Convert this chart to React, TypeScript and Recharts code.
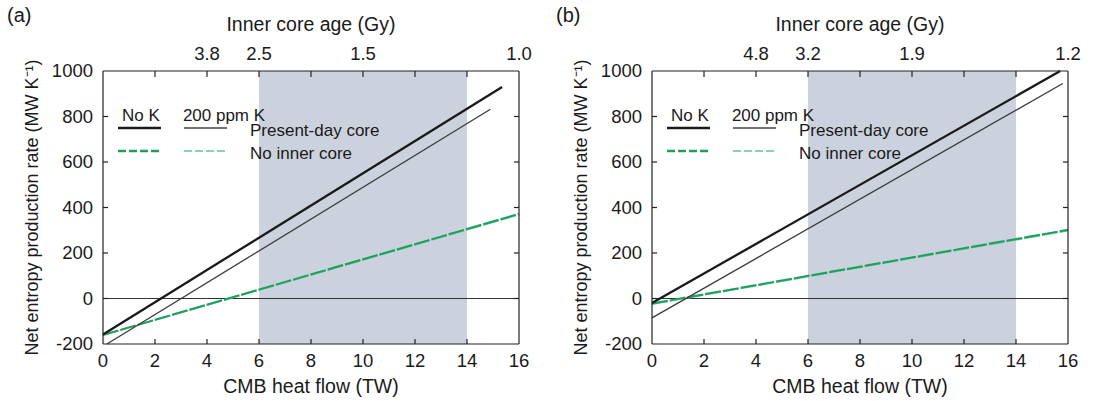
import React from "react";
import { LineChart, Line, XAxis, YAxis, ReferenceArea, ReferenceLine, Legend } from "recharts";

const FONT = '"Liberation Sans", Arial, Helvetica, sans-serif';
const INK = "#1a1a1a";
const AXIS = "#222";
const SHADE = "#ccd1de";
const GREEN = "#1f9f5a";
const LIGHT_GREEN = "#5cc6a0";

// shared axes
const heatFlowTicks = [0, 2, 4, 6, 8, 10, 12, 14, 16];
const entropyTicks = [-200, 0, 200, 400, 600, 800, 1000];
const presentDayRange = [6, 14];

// inner core age labels on top axis, one per heat flow tick
const agesA = ["", "", "3.8", "2.5", "", "1.5", "", "", "1.0"];
const agesB = ["", "", "4.8", "3.2", "", "1.9", "", "", "1.2"];

// panel (a)
const presentNoKA = [{ x: 0, y: -158 }, { x: 15.35, y: 930 }];
const presentKA = [{ x: 0.15, y: -200 }, { x: 14.9, y: 832 }];
const noCoreNoKA = [{ x: 0, y: -160 }, { x: 16, y: 372 }];
const noCoreKA = [{ x: 0, y: -162 }, { x: 16, y: 368 }];

// panel (b)
const presentNoKB = [{ x: 0, y: -20 }, { x: 15.7, y: 1000 }];
const presentKB = [{ x: 0, y: -85 }, { x: 15.8, y: 945 }];
const noCoreNoKB = [{ x: 0, y: -22 }, { x: 16, y: 302 }];
const noCoreKB = [{ x: 0, y: -25 }, { x: 16, y: 298 }];

const keyColumns = ["No K", "200 ppm K"];
const keyRows = ["Present-day core", "No inner core"];

const BottomTick = (props: any) => {
  const { x, y, payload } = props;
  const v = payload.value;
  const inner = v !== heatFlowTicks[0] && v !== heatFlowTicks[heatFlowTicks.length - 1];
  return (
    <g>
      {inner && <line x1={x} x2={x} y1={y} y2={y - 5} stroke={AXIS} strokeWidth={1.2} />}
      <text x={x} y={y + 23} textAnchor="middle" fontSize={18.5} fill={INK} fontFamily={FONT}>
        {v}
      </text>
    </g>
  );
};

const makeTopTick = (ages: string[]) => (props: any) => {
  const { x, y, payload } = props;
  const v = payload.value;
  const i = heatFlowTicks.indexOf(v);
  const inner = v !== heatFlowTicks[0] && v !== heatFlowTicks[heatFlowTicks.length - 1];
  return (
    <g>
      {inner && <line x1={x} x2={x} y1={y} y2={y + 6} stroke={AXIS} strokeWidth={1.2} />}
      <text x={x} y={y - 11} textAnchor="middle" fontSize={18.5} fill={INK} fontFamily={FONT}>
        {ages[i] ?? ""}
      </text>
    </g>
  );
};

const LeftTick = (props: any) => {
  const { x, y, payload } = props;
  const v = payload.value;
  const inner = v !== entropyTicks[0] && v !== entropyTicks[entropyTicks.length - 1];
  return (
    <g>
      {inner && <line x1={x} x2={x + 5} y1={y} y2={y} stroke={AXIS} strokeWidth={1.2} />}
      <text x={x - 10} y={y} dy="0.35em" textAnchor="end" fontSize={18.5} fill={INK} fontFamily={FONT}>
        {v}
      </text>
    </g>
  );
};

const RightTick = (props: any) => {
  const { x, y, payload } = props;
  const v = payload.value;
  const inner = v !== entropyTicks[0] && v !== entropyTicks[entropyTicks.length - 1];
  return inner ? <line x1={x} x2={x - 5} y1={y} y2={y} stroke={AXIS} strokeWidth={1.2} /> : <g />;
};

const Key = () => (
  <svg width={300} height={70} style={{ display: "block", overflow: "visible" }}>
    <g fontFamily={FONT} fontSize={17} fill={INK}>
      <text x={26} y={21} textAnchor="middle">{keyColumns[0]}</text>
      <text x={109} y={21} textAnchor="middle">{keyColumns[1]}</text>
      <text x={135} y={36}>{keyRows[0]}</text>
      <text x={135} y={59}>{keyRows[1]}</text>
    </g>
    <line x1={3} x2={46} y1={28} y2={28} stroke={INK} strokeWidth={2.6} />
    <line x1={69} x2={112} y1={28} y2={28} stroke="#444" strokeWidth={1.4} />
    <line x1={3} x2={46} y1={51} y2={51} stroke={GREEN} strokeWidth={2.4} strokeDasharray="8 3" />
    <line x1={69} x2={112} y1={51} y2={51} stroke={LIGHT_GREEN} strokeWidth={1.6} strokeDasharray="8 3" />
  </svg>
);

function Panel({
  letter,
  ages,
  presentNoK,
  presentK,
  noCoreNoK,
  noCoreK,
}: {
  letter: string;
  ages: string[];
  presentNoK: { x: number; y: number }[];
  presentK: { x: number; y: number }[];
  noCoreNoK: { x: number; y: number }[];
  noCoreK: { x: number; y: number }[];
}) {
  return (
    <div style={{ position: "relative", width: 549, height: 401 }}>
      <div
        style={{ position: "absolute", left: 7, top: 4, fontSize: 20, fontFamily: FONT, color: INK, zIndex: 2 }}
      >
        {letter}
      </div>
      <LineChart width={549} height={401} margin={{ top: 0, right: 0, bottom: 0, left: 0 }}>
        <XAxis
          dataKey="x"
          type="number"
          domain={[0, 16]}
          ticks={heatFlowTicks}
          interval={0}
          height={57}
          tickLine={false}
          tickSize={0}
          tickMargin={0}
          axisLine={{ stroke: AXIS, strokeWidth: 1.2 }}
          tick={<BottomTick />}
          label={{
            content: ({ viewBox }: any) => (
              <text
                x={viewBox.x + viewBox.width / 2}
                y={viewBox.y + 49}
                textAnchor="middle"
                fontSize={19.5}
                fill={INK}
                fontFamily={FONT}
              >
                CMB heat flow (TW)
              </text>
            ),
          }}
        />
        <XAxis
          xAxisId="top"
          orientation="top"
          dataKey="x"
          type="number"
          domain={[0, 16]}
          allowDataOverflow
          ticks={heatFlowTicks}
          interval={0}
          height={71}
          tickLine={false}
          tickSize={0}
          tickMargin={0}
          axisLine={{ stroke: AXIS, strokeWidth: 1.2 }}
          tick={makeTopTick(ages)}
          label={{
            content: ({ viewBox }: any) => (
              <text
                x={viewBox.x + viewBox.width / 2}
                y={viewBox.y + 31}
                textAnchor="middle"
                fontSize={19.5}
                fill={INK}
                fontFamily={FONT}
              >
                Inner core age (Gy)
              </text>
            ),
          }}
        />
        <YAxis
          type="number"
          domain={[-200, 1000]}
          ticks={entropyTicks}
          interval={0}
          width={103}
          tickLine={false}
          tickSize={0}
          tickMargin={0}
          axisLine={{ stroke: AXIS, strokeWidth: 1.2 }}
          tick={<LeftTick />}
          label={{
            content: ({ viewBox }: any) => {
              const cx = 38;
              const cy = viewBox.y + viewBox.height / 2;
              return (
                <text
                  x={cx}
                  y={cy}
                  transform={`rotate(-90, ${cx}, ${cy})`}
                  textAnchor="middle"
                  fontSize={18}
                  fill={INK}
                  fontFamily={FONT}
                >
                  Net entropy production rate (MW K⁻¹)
                </text>
              );
            },
          }}
        />
        <YAxis
          yAxisId="right"
          orientation="right"
          type="number"
          domain={[-200, 1000]}
          allowDataOverflow
          ticks={entropyTicks}
          interval={0}
          width={30}
          tickLine={false}
          tickSize={0}
          tickMargin={0}
          axisLine={{ stroke: AXIS, strokeWidth: 1.2 }}
          tick={<RightTick />}
        />
        <ReferenceArea
          x1={presentDayRange[0]}
          x2={presentDayRange[1]}
          y1={-200}
          y2={1000}
          fill={SHADE}
          fillOpacity={1}
          stroke="none"
        />
        <ReferenceLine y={0} stroke="#333" strokeWidth={1.2} />
        <Legend
          verticalAlign="middle"
          align="center"
          wrapperStyle={{ position: "absolute", left: 115, top: 100, width: 300, height: 70 }}
          content={() => <Key />}
        />
        <Line
          data={noCoreK}
          dataKey="y"
          type="linear"
          stroke={LIGHT_GREEN}
          strokeWidth={1.5}
          strokeDasharray="16 2"
          dot={false}
          activeDot={false}
          isAnimationActive={false}
        />
        <Line
          data={noCoreNoK}
          dataKey="y"
          type="linear"
          stroke={GREEN}
          strokeWidth={2}
          strokeDasharray="16 2"
          dot={false}
          activeDot={false}
          isAnimationActive={false}
        />
        <Line
          data={presentK}
          dataKey="y"
          type="linear"
          stroke="#3a3a3a"
          strokeWidth={1.3}
          dot={false}
          activeDot={false}
          isAnimationActive={false}
        />
        <Line
          data={presentNoK}
          dataKey="y"
          type="linear"
          stroke={INK}
          strokeWidth={2.3}
          dot={false}
          activeDot={false}
          isAnimationActive={false}
        />
      </LineChart>
    </div>
  );
}

export default function App() {
  return (
    <div
      style={{
        position: "absolute",
        left: 0,
        top: 0,
        width: 1098,
        height: 401,
        background: "#fff",
        display: "flex",
        fontFamily: FONT,
      }}
    >
      <Panel
        letter="(a)"
        ages={agesA}
        presentNoK={presentNoKA}
        presentK={presentKA}
        noCoreNoK={noCoreNoKA}
        noCoreK={noCoreKA}
      />
      <Panel
        letter="(b)"
        ages={agesB}
        presentNoK={presentNoKB}
        presentK={presentKB}
        noCoreNoK={noCoreNoKB}
        noCoreK={noCoreKB}
      />
    </div>
  );
}
